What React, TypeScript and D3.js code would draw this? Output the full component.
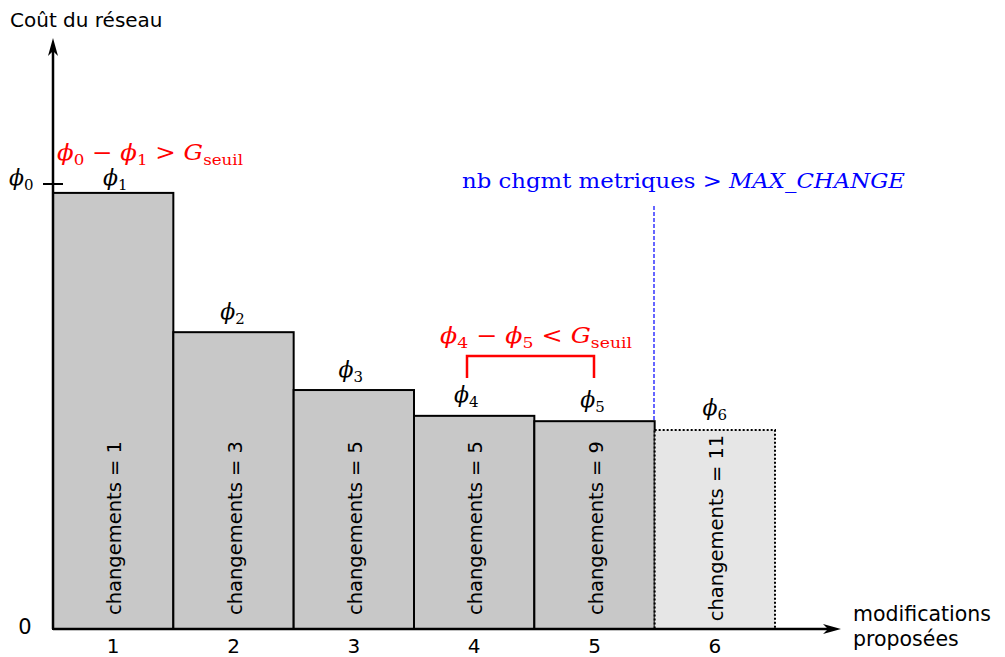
import React from 'react';
import * as d3 from 'd3';

// Data
const categories = ['1', '2', '3', '4', '5', '6'];
const costs = [98.0, 66.7, 53.7, 47.9, 46.7, 44.7];
const changements = [1, 3, 5, 5, 9, 11];
const phiIndex = [1, 2, 3, 4, 5, 6];
const rejected = [false, false, false, false, false, true];
const phi0 = 100;

const W = 1005;
const H = 657;
const x0 = 53;
const y0 = 629;

const serif = '"DejaVu Serif", "Liberation Serif", serif';
const sans = '"DejaVu Sans", sans-serif';
const PHI = '\u03D5';

// label nudges so the phi labels sit where the reference puts them
const phiDx = [2, -1, -3, -8, -2, 0];
const phiDy = [-8, -13, -13, -14, -14, -15];

const Phi: React.FC<{ x: number; y: number; i: number | string; size?: number; anchor?: string }> = ({ x, y, i, size = 22, anchor = 'middle' }) => (
  <text x={x} y={y} fill="#000" fontFamily={serif} fontSize={size} textAnchor={anchor as any}>
    <tspan fontStyle="italic">{PHI}</tspan>
    <tspan fontSize={size * 0.68} dy={size * 0.22}>{i}</tspan>
  </text>
);

const Gap: React.FC<{ x: number; y: number; a: number; b: number; op: string; width: number }> = ({ x, y, a, b, op, width }) => (
  <text x={x} y={y} fill="#ff0000" fontFamily={serif} fontSize={22} textLength={width} lengthAdjust="spacingAndGlyphs">
    <tspan fontStyle="italic">{PHI}</tspan>
    <tspan fontSize={15} dy={5}>{a}</tspan>
    <tspan dy={-5}> − </tspan>
    <tspan fontStyle="italic">{PHI}</tspan>
    <tspan fontSize={15} dy={5}>{b}</tspan>
    <tspan dy={-5}>{` ${op} `}</tspan>
    <tspan fontStyle="italic">G</tspan>
    <tspan fontSize={15} dy={5}>seuil</tspan>
  </text>
);

export default function App() {
  const x = d3.scaleBand<string>().domain(categories).range([x0, 775]).paddingInner(0).paddingOuter(0);
  const y = d3.scaleLinear().domain([0, phi0]).range([y0, 184]);

  const bars = categories.map((c, i) => ({
    c,
    cost: costs[i],
    chg: changements[i],
    phi: phiIndex[i],
    rejected: rejected[i],
  }));

  return (
    <svg width={W} height={H} viewBox={`0 0 ${W} ${H}`} style={{ position: 'absolute', left: 0, top: 0, background: '#fff' }}>
      {/* bars */}
      {bars.map((b, i) => {
        const cx = x(b.c)! + x.bandwidth() / 2;
        return (
          <g key={b.c}>
            <rect
              x={x(b.c)!}
              y={y(b.cost)}
              width={x.bandwidth()}
              height={y0 - y(b.cost)}
              fill={b.rejected ? '#e6e6e6' : '#c8c8c8'}
              stroke="#000"
              strokeWidth={2}
              strokeDasharray={b.rejected ? '2,2' : undefined}
            />
            <text transform={`translate(${cx + 8},${y0 - 101}) rotate(-90)`} fontFamily={sans} fontSize={19.5} fill="#000" textAnchor="middle">
              {`changements = ${b.chg}`}
            </text>
            <Phi x={cx + phiDx[i]} y={y(b.cost) + phiDy[i]} i={b.phi} />
            <text x={cx} y={653} fontFamily={sans} fontSize={20} textAnchor="middle">
              {b.c}
            </text>
          </g>
        );
      })}

      {/* axes */}
      <line x1={x0} y1={y0} x2={x0} y2={46} stroke="#000" strokeWidth={2.5} />
      <path d={`M${x0},38 L${x0 + 5},56 L${x0},51 L${x0 - 5},56 Z`} fill="#000" />
      <line x1={x0} y1={y0} x2={832} y2={y0} stroke="#000" strokeWidth={2.5} />
      <path d={`M841,${y0} L823,${y0 - 5} L828,${y0} L823,${y0 + 5} Z`} fill="#000" />
      <line x1={43} y1={y(phi0)} x2={63} y2={y(phi0)} stroke="#000" strokeWidth={2} />

      <text x={10} y={27} fontFamily={sans} fontSize={20}>Coût du réseau</text>
      <text x={25} y={634} fontFamily={sans} fontSize={21} textAnchor="middle">0</text>
      <Phi x={9} y={185} i={0} anchor="start" />
      <text x={853} y={621} fontFamily={sans} fontSize={20.5}>modifications</text>
      <text x={853} y={646} fontFamily={sans} fontSize={20.5}>proposées</text>

      {/* red annotations */}
      <Gap x={57} y={160} a={0} b={1} op=">" width={186} />
      <Gap x={440} y={343} a={4} b={5} op="<" width={192} />
      <path d="M467,378 L467,356 L594,356 L594,378" fill="none" stroke="#ff0000" strokeWidth={2.5} />

      {/* blue threshold */}
      <line x1={654} y1={206} x2={654} y2={y(costs[4])} stroke="#0000ff" strokeWidth={1.2} strokeDasharray="4,2" />
      <text x={462} y={188} fill="#0000ff" fontFamily={serif} fontSize={20} textLength={443} lengthAdjust="spacingAndGlyphs">
        <tspan>nb chgmt metriques &gt; </tspan>
        <tspan fontStyle="italic">MAX_CHANGE</tspan>
      </text>
    </svg>
  );
}
